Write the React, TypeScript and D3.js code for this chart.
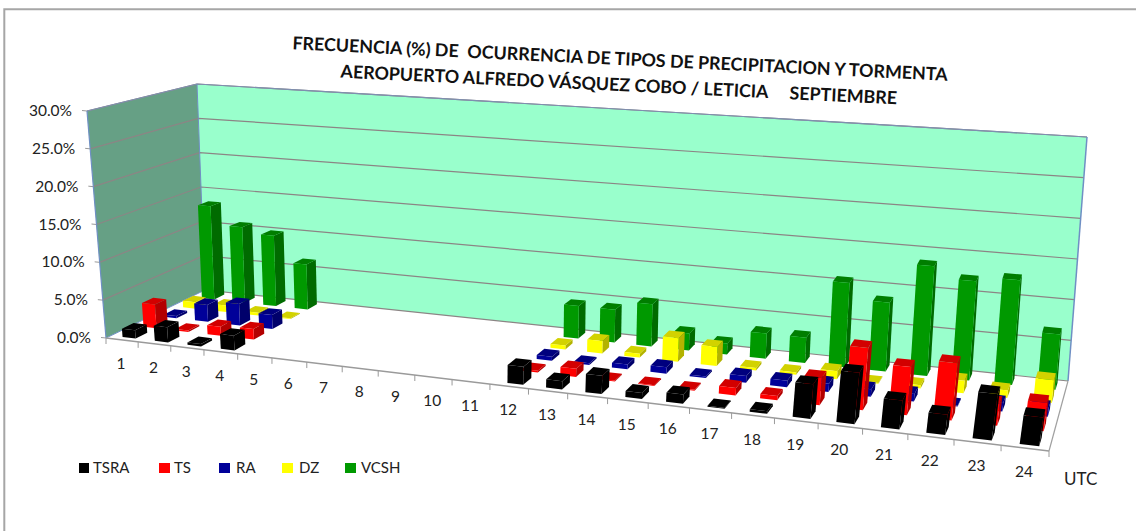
import React from "react";
import * as d3 from "d3";

const categories = ["1","2","3","4","5","6","7","8","9","10","11","12","13","14","15","16","17","18","19","20","21","22","23","24"];
const seriesNames = ["TSRA","TS","RA","DZ","VCSH"];
const TSRA = [1.1,2.0,0.3,1.9,0,0,0,0,0,0,0,2.2,1.0,2.2,0.7,1.1,0.1,0.3,4.0,5.9,3.3,2.3,5.2,3.2];
const TS =   [3.2,0.2,1.2,1.4,0,0,0,0,0,0,0,0.2,1.0,0.1,0.1,0.1,0.9,0.5,3.2,7.3,5.6,6.6,2.5,3.2];
const RA =   [0.3,2.3,2.9,1.9,0,0,0,0,0,0,0,0.5,0.2,0.6,0.8,0.2,0.8,0.8,1.0,0.9,0.9,0.1,1.0,1.0];
const DZ =   [0.9,0.9,0.4,0.1,0,0,0,0,0,0,0,0.5,1.6,0.5,3.0,2.4,0.3,0.3,1.0,0.1,0.4,1.5,0.9,2.7];
const VCSH = [13.3,10.7,9.9,6.3,0,0,0,0,0,0,0,4.3,4.3,5.5,2.2,1.4,3.2,3.2,10.6,8.6,13.6,12.2,12.8,6.7];
const seriesValues = [TSRA,TS,RA,DZ,VCSH];
const seriesColors = ["#000000","#ff0000","#000099","#ffff00","#009900"];
const valueTicks = [0,5,10,15,20,25,30];
const titleLines = ["FRECUENCIA (%) DE  OCURRENCIA DE TIPOS DE PRECIPITACION Y TORMENTA","AEROPUERTO ALFREDO VÁSQUEZ COBO / LETICIA     SEPTIEMBRE"];

type P = [number, number];
// square-to-quad homography: (0,0)=p0, (1,0)=p1, (1,1)=p2, (0,1)=p3
function homography(p0: P, p1: P, p2: P, p3: P) {
  const dx1 = p1[0]-p2[0], dx2 = p3[0]-p2[0], sx = p0[0]-p1[0]+p2[0]-p3[0];
  const dy1 = p1[1]-p2[1], dy2 = p3[1]-p2[1], sy = p0[1]-p1[1]+p2[1]-p3[1];
  const den = dx1*dy2-dx2*dy1;
  const g = (sx*dy2-dx2*sy)/den, h = (dx1*sy-sx*dy1)/den;
  const a = p1[0]-p0[0]+g*p1[0], b = p3[0]-p0[0]+h*p3[0], c = p0[0];
  const d = p1[1]-p0[1]+g*p1[1], e = p3[1]-p0[1]+h*p3[1], f = p0[1];
  return (u: number, w: number): P => {
    const q = g*u+h*w+1;
    return [(a*u+b*w+c)/q, (d*u+e*w+f)/q];
  };
}
const floor = homography([106,338],[1049,451],[1068,381],[205,290]);
const ceil = homography([87,111],[1089,179],[1087,137],[197,84]);
const vScale = d3.scaleLinear().domain([0,30]).range([0,1]);
const uBand = d3.scaleBand<string>().domain(categories).range([0,1]);
const wBand = d3.scaleBand<string>().domain(seriesNames).range([0,1]);
function proj(u: number, w: number, v: number): P {
  const t = vScale(v);
  const a = floor(u,w), b = ceil(u,w);
  return [a[0]+(b[0]-a[0])*t, a[1]+(b[1]-a[1])*t];
}
const path = (pts: P[]) => (d3.line()(pts) as string) + "Z";
const BAR_U = 0.41, BAR_W = 0.55, U_SHIFT = 0.003;
const font = "Lato, Carlito, sans-serif";
const GRID = "#8c8585", EDGE = "#6f8fc4";

export default function App() {
  const bars: React.ReactNode[] = [];
  for (let s = seriesNames.length-1; s >= 0; s--) {
    const color = d3.rgb(seriesColors[s]);
    const side = color.darker(s===0?0:1).formatHex();
    const top = color.darker(s===0?0:0.55).formatHex();
    seriesValues[s].forEach((val, i) => {
      if (!val) return;
      const uc = uBand(categories[i])! + uBand.bandwidth()/2 + U_SHIFT;
      const wc = wBand(seriesNames[s])! + wBand.bandwidth()/2;
      const du = uBand.bandwidth()*BAR_U/2, dw = wBand.bandwidth()*BAR_W/2;
      const u0=uc-du,u1=uc+du,w0=wc-dw,w1=wc+dw;
      bars.push(<g key={s+"-"+i}>
        <path d={path([proj(u1,w0,0),proj(u1,w1,0),proj(u1,w1,val),proj(u1,w0,val)])} fill={side}/>
        <path d={path([proj(u0,w0,val),proj(u1,w0,val),proj(u1,w1,val),proj(u0,w1,val)])} fill={top}/>
        <path d={path([proj(u0,w0,0),proj(u1,w0,0),proj(u1,w0,val),proj(u0,w0,val)])} fill={seriesColors[s]}/>
      </g>);
    });
  }
  const legendX = [79,159,219,282,345];
  const legendW = [10,11,11,11,11];
  const legendTextX = [93,174,236,299,361];
  return (
    <svg width={1136} height={531} style={{position:"absolute",left:0,top:0,background:"#fff"}} fontFamily={font}>
      <path d="M4.3 531V9.2H1136" fill="none" stroke="#a6a6a6" strokeWidth={2}/>
      {/* walls */}
      <path d={path([proj(0,1,0),proj(1,1,0),proj(1,1,30),proj(0,1,30)])} fill="#99ffcc"/>
      <path d={path([proj(0,0,0),proj(0,1,0),proj(0,1,30),proj(0,0,30)])} fill="#66a085"/>
      {valueTicks.map(v => <g key={v}>
        {v>0 && <path d={d3.line()([proj(0,0,v),proj(0,1,v),proj(1,1,v)]) as string} fill="none" stroke={GRID} strokeWidth={1.2}/>}
        {v===30 && <path d={d3.line()([proj(0,0,v),proj(0,1,v),proj(1,1,v)]) as string} fill="none" stroke="#7f8fb0" strokeWidth={1.2}/>}
        <path d={d3.line()([proj(0,0,v),[proj(0,0,v)[0]-5,proj(0,0,v)[1]-0.5]]) as string} stroke="#9a9a9a" strokeWidth={1}/>
        <text x={proj(0,0,v)[0]-15} y={proj(0,0,v)[1]+5} textAnchor="end" fontSize={15.5} fill="#222">{v.toFixed(1)+"%"}</text>
      </g>)}
      {/* wall edges */}
      <path d={d3.line()([proj(0,0,0),proj(0,0,30)]) as string} stroke={EDGE} strokeWidth={1.2}/>
      <path d={d3.line()([proj(0,1,0),proj(0,1,30)]) as string} stroke={EDGE} strokeWidth={1}/>
      <path d={d3.line()([proj(1,1,0),proj(1,1,30)]) as string} stroke={EDGE} strokeWidth={1.5}/>
      {/* floor */}
      <path d={path([proj(0,0,0),proj(1,0,0),proj(1,1,0),proj(0,1,0)])} fill="#fff" stroke="none"/>
      <path d={d3.line()([proj(0,1,0),proj(1,1,0)]) as string} stroke={GRID} strokeWidth={1.2}/>
      <path d={d3.line()([proj(0,0,0),proj(0,1,0)]) as string} stroke={EDGE} strokeWidth={1}/>
      <path d={d3.line()([proj(1,0,0),proj(1,1,0)]) as string} stroke="#a0a0a0" strokeWidth={1.2}/>
      <path d={d3.line()([proj(0,0,0),proj(1,0,0)]) as string} stroke="#9a9a9a" strokeWidth={1.5}/>
      {bars}
      {categories.map((c,i) => {
        const edge = proj(i/24,0,0);
        const mid = proj((i+0.5)/24,0,0);
        return <g key={c}>
          <path d={`M${edge[0]},${edge[1]}l0,6`} stroke="#9a9a9a" strokeWidth={1}/>
          <text x={mid[0]-1} y={mid[1]+29} textAnchor="middle" fontSize={15.5} fill="#222">{c}</text>
        </g>;
      })}
      <path d={`M${proj(1,0,0)[0]},${proj(1,0,0)[1]}l0,6`} stroke="#9a9a9a" strokeWidth={1}/>
      <text x={1064} y={485} fontSize={17} fill="#222">UTC</text>
      <g transform="rotate(2.75 620 60)" fontWeight={700} fontSize={17.85} fill="#111" textAnchor="middle">
        {titleLines.map((t,i)=><text key={i} x={620} y={65+i*26} style={{whiteSpace:"pre"}}>{t}</text>)}
      </g>
      {seriesNames.map((n,i)=><g key={n}>
        <rect x={legendX[i]} y={463} width={legendW[i]} height={10} fill={seriesColors[i]}/>
        <text x={legendTextX[i]} y={473} fontSize={15} fill="#222">{n}</text>
      </g>)}
    </svg>
  );
}
